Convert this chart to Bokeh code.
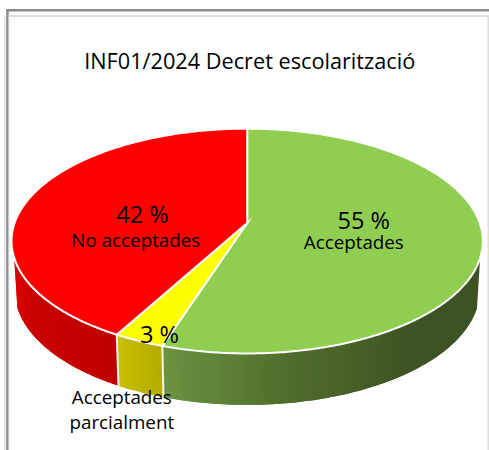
import math
from bokeh.plotting import figure
from bokeh.models import Range1d
from bokeh.core.properties import value
from bokeh.embed import file_html
from bokeh.resources import INLINE

# ---- data
title_text = "INF01/2024 Decret escolarització"
categories = ["Acceptades", "Acceptades\nparcialment", "No acceptades"]
percentages = [55, 3, 42]
top_colors = ["#8fce50", "#ffff00", "#ff0000"]

# ---- side shading: (fraction along the slice's visible rim, colour)
side_stops = [
    [(0.0, (0x3d, 0x53, 0x23)), (0.38, (0x3d, 0x53, 0x23)), (0.70, (0x50, 0x6c, 0x2c)), (1.0, (0x6a, 0x94, 0x40))],
    [(0.0, (0xb4, 0xac, 0x00)), (1.0, (0xc8, 0xc0, 0x00))],
    [(0.0, (0xc0, 0x00, 0x00)), (0.6, (0xc8, 0x00, 0x00)), (1.0, (0xdc, 0x00, 0x00))],
]

# ---- projection of the pie disc (perspective)
CX, APEX_Y, K = 246.7, 222.5, 0.1607
A_TOP, B_TOP = 232.6, 109.5
A_BOT, B_BOT, APEX_BOT = 229.5, 111.5, 271.5
SIDE_START, SIDE_END = 107.8, 252.2


def proj(deg, a, b, ay):
    u, v = math.sin(math.radians(deg)), math.cos(math.radians(deg))
    w = 1 + K * v
    return CX + a * u / w, ay - b * v / w


def top(deg):
    return proj(deg, A_TOP, B_TOP, APEX_Y)


def bot(deg):
    return proj(deg, A_BOT, B_BOT, APEX_BOT)


def mix(stops, f):
    for (f0, c0), (f1, c1) in zip(stops, stops[1:]):
        if f <= f1:
            g = (f - f0) / (f1 - f0) if f1 > f0 else 0
            return "#%02x%02x%02x" % tuple(round(c0[i] + (c1[i] - c0[i]) * g) for i in range(3))
    return "#%02x%02x%02x" % stops[-1][1]


total = sum(percentages)
edges = [0.0]
for pct in percentages:
    edges.append(edges[-1] + 360.0 * pct / total)

p = figure(width=489, height=450, output_backend="svg", toolbar_location=None,
           x_range=Range1d(0, 489), y_range=Range1d(450, 0),
           min_border=0, min_border_left=0, min_border_right=0, min_border_top=0, min_border_bottom=0,
           outline_line_color=None, margin=(0, 0, 0, 0))
p.axis.visible = False
p.grid.visible = False
p.background_fill_color = "white"
p.border_fill_color = "white"

# ---- frame
p.line([4.5, 4.5], [16, 450], line_color="#dcdcdc", line_width=1.5)
p.line([7, 7], [9, 450], line_color="#8c8c8c", line_width=2.5)
p.line([8.5, 8.5], [16, 450], line_color="#e6e6e6", line_width=1)
p.line([5.5, 489], [9.7, 9.7], line_color="#8c8c8c", line_width=2.5)
p.line([8, 488], [15.5, 15.5], line_color="#dcdcdc", line_width=2)
p.line([487.8, 487.8], [15, 450], line_color="#dcdcdc", line_width=1.5)

# ---- side wall, in thin slices so it can be shaded (each overlaps the next)
xs, ys, cs = [], [], []
for i in range(len(percentages)):
    a0 = max(edges[i], SIDE_START)
    a1 = min(edges[i + 1], SIDE_END)
    n = max(2, int((a1 - a0) / 1.0))
    for j in range(n):
        d0 = a0 + (a1 - a0) * j / n
        d1 = min(a1, a0 + (a1 - a0) * (j + 2) / n)
        dm = a0 + (a1 - a0) * (j + 1) / n
        arc = [d0, dm, d1]
        tp = [top(d) for d in arc]
        bp = [bot(d) for d in reversed(arc)]
        xs.append([q[0] for q in tp + bp])
        ys.append([q[1] for q in tp + bp])
        cs.append(mix(side_stops[i], (j + 0.5) / n))
p.patches(xs, ys, fill_color=cs, line_color=None)

# white seams between the side walls
for e in edges[1:-1]:
    t, b = top(e), bot(e)
    p.line([t[0], b[0]], [t[1], b[1]], line_color="#f4f4ec", line_width=2)

# ---- top surface
for i in range(len(percentages)):
    a0, a1 = edges[i], edges[i + 1]
    n = max(6, int((a1 - a0) * 2))
    pts = [top(a0 + (a1 - a0) * j / n) for j in range(n + 1)]
    px = [CX] + [q[0] for q in pts]
    py = [APEX_Y] + [q[1] for q in pts]
    p.patch(px, py, fill_color=top_colors[i], line_color="white", line_width=2, line_join="miter")

# ---- texts
FONT = value("Open Sans")


def label(x, y, s, size):
    p.text([x], [y], text=[s], text_font=FONT, text_font_size=value(size), text_color="#000000",
           text_align="center", text_baseline="middle")


label(249.2, 60, title_text, "21.7px")
label(363.3, 219, f"{percentages[0]} %", "23.5px")
label(353.3, 241.5, categories[0], "18.8px")
label(142, 213.5, f"{percentages[2]} %", "23.5px")
label(135.3, 239, categories[2], "18.8px")
label(159, 333.5, f"{percentages[1]} %", "23.5px")
first, second = categories[1].split("\n")
label(121.3, 396, first, "18.8px")
label(121.3, 421, second, "18.8px")

open("out.html", "w").write(file_html(p, INLINE))
